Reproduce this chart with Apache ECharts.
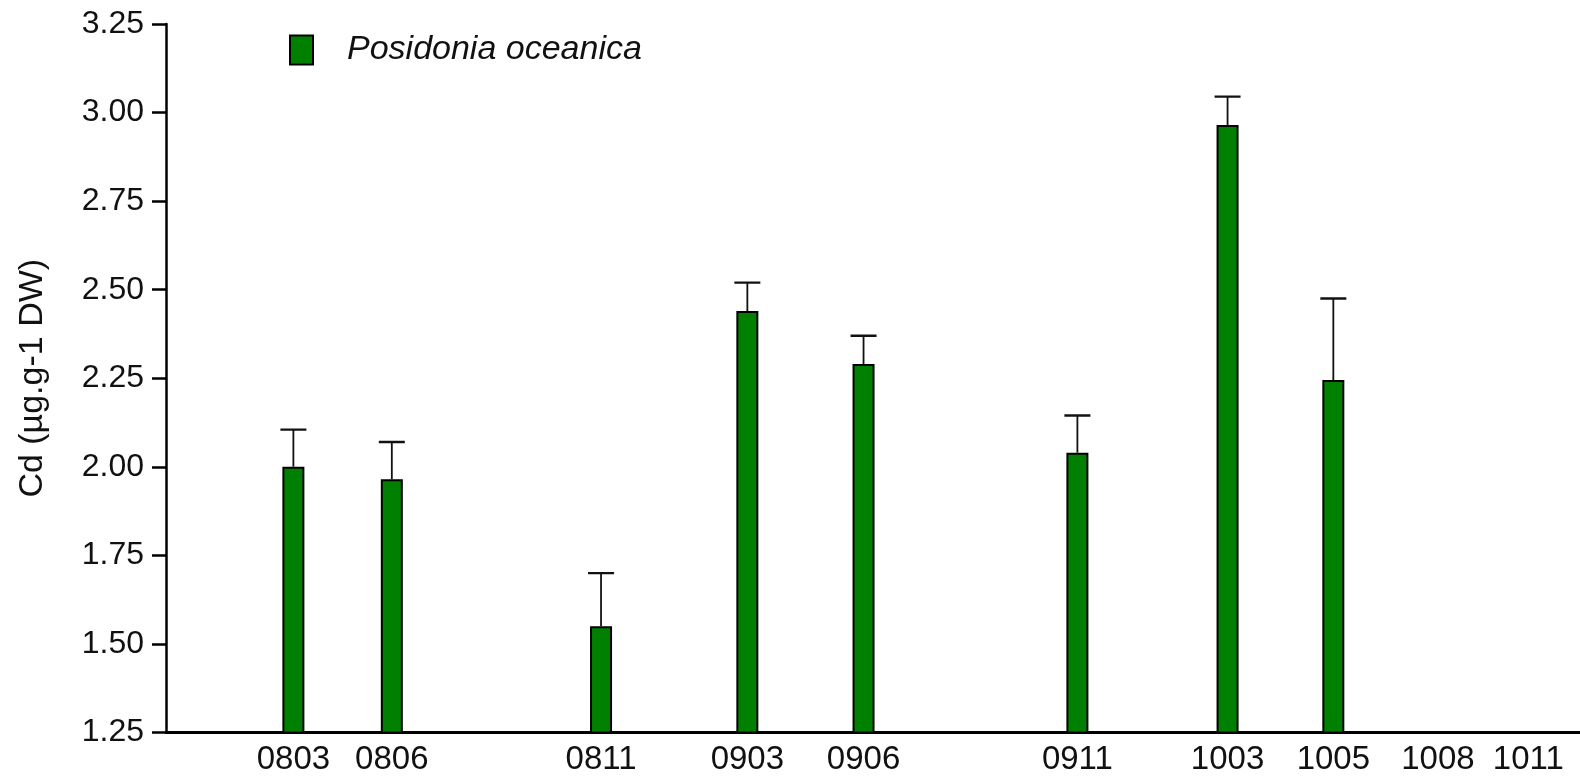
<!DOCTYPE html>
<html>
<head>
<meta charset="utf-8">
<script src="https://cdn.jsdelivr.net/npm/echarts@6/dist/echarts.min.js"></script>
<style>
  html, body { margin: 0; padding: 0; background: #fff; }
  #chart { width: 1580px; height: 778px; }
</style>
</head>
<body>
<div id="chart"></div>
<script>
// Sampling campaigns (yymm) and their position on the time line, in months since March 2008
const sampleLabels = ['0803', '0806', '0811', '0903', '0906', '0911', '1003', '1005', '1008', '1011'];
const sampleMonths = [0, 2.55, 7.97, 11.76, 14.77, 20.31, 24.2, 26.94, 29.65, 31.99];

// Cd concentration in Posidonia oceanica (µg.g-1 DW): mean and standard deviation
const cdMean = [2.00, 1.965, 1.55, 2.44, 2.29, 2.04, 2.965, 2.245, null, null];
const cdSd   = [0.105, 0.105, 0.15, 0.08, 0.08, 0.105, 0.08, 0.23, null, null];

// Y axis ticks
const yMin = 1.25, yMax = 3.25, yStep = 0.25;

const FONT = '"Liberation Sans", Arial, sans-serif';
const TXT = '#111';

const barData = [];
const errData = [];
sampleMonths.forEach((m, i) => {
  if (cdMean[i] == null) return;
  barData.push([m, cdMean[i]]);
  errData.push([m, cdMean[i], cdMean[i] + cdSd[i]]);
});

const chart = echarts.init(document.getElementById('chart'), null, { renderer: 'canvas' });

chart.setOption({
  animation: false,
  backgroundColor: '#fff',
  grid: {
    left: 166, right: 0, top: 24, bottom: 45.5,
    containLabel: false, outerBoundsMode: 'none'
  },
  legend: {
    left: 284, top: 28,
    icon: 'rect',
    itemWidth: 23, itemHeight: 29,
    data: ['Posidonia oceanica'],
    textStyle: {
      fontFamily: FONT, fontSize: 34, fontStyle: 'italic', color: TXT,
      padding: [0, 0, 0, 29]
    }
  },
  xAxis: {
    type: 'value',
    min: -3.30, max: 33.33,
    splitLine: { show: false },
    axisTick: { show: false },
    axisLine: { onZero: false, lineStyle: { color: '#000', width: 3 } },
    axisLabel: {
      customValues: sampleMonths,
      formatter: (v) => {
        const i = sampleMonths.findIndex(m => Math.abs(m - v) < 1e-6);
        return i >= 0 ? sampleLabels[i] : '';
      },
      margin: 11,
      fontFamily: FONT, fontSize: 33, color: TXT
    }
  },
  yAxis: {
    type: 'value',
    min: yMin, max: yMax, interval: yStep,
    name: 'Cd (µg.g-1 DW)',
    nameLocation: 'middle', nameRotate: 90, nameGap: 116,
    nameTextStyle: { fontFamily: FONT, fontSize: 34, color: TXT },
    splitLine: { show: false },
    axisLine: { show: true, onZero: false, lineStyle: { color: '#000', width: 2.5 } },
    axisTick: { show: true, inside: false, length: 14, lineStyle: { color: '#000', width: 2.5 } },
    axisLabel: {
      formatter: (v) => v.toFixed(2),
      margin: 22,
      fontFamily: FONT, fontSize: 32, color: TXT
    }
  },
  series: [
    {
      name: 'Posidonia oceanica',
      type: 'bar',
      data: barData,
      barWidth: 22,
      clip: true,
      itemStyle: { color: '#008000', borderColor: '#000', borderWidth: 2 },
      z: 2
    },
    {
      name: 'sd',
      type: 'custom',
      data: errData,
      clip: true,
      z: 3,
      renderItem: (params, api) => {
        const x = api.value(0);
        const top = api.coord([x, api.value(1)]);
        const cap = api.coord([x, api.value(2)]);
        const half = 13;
        return {
          type: 'group',
          children: [
            { type: 'line', shape: { x1: top[0], y1: top[1], x2: cap[0], y2: cap[1] },
              style: { stroke: '#111', lineWidth: 1.8 } },
            { type: 'line', shape: { x1: cap[0] - half, y1: cap[1], x2: cap[0] + half, y2: cap[1] },
              style: { stroke: '#111', lineWidth: 2.4 } }
          ]
        };
      }
    }
  ]
});
</script>
</body>
</html>
